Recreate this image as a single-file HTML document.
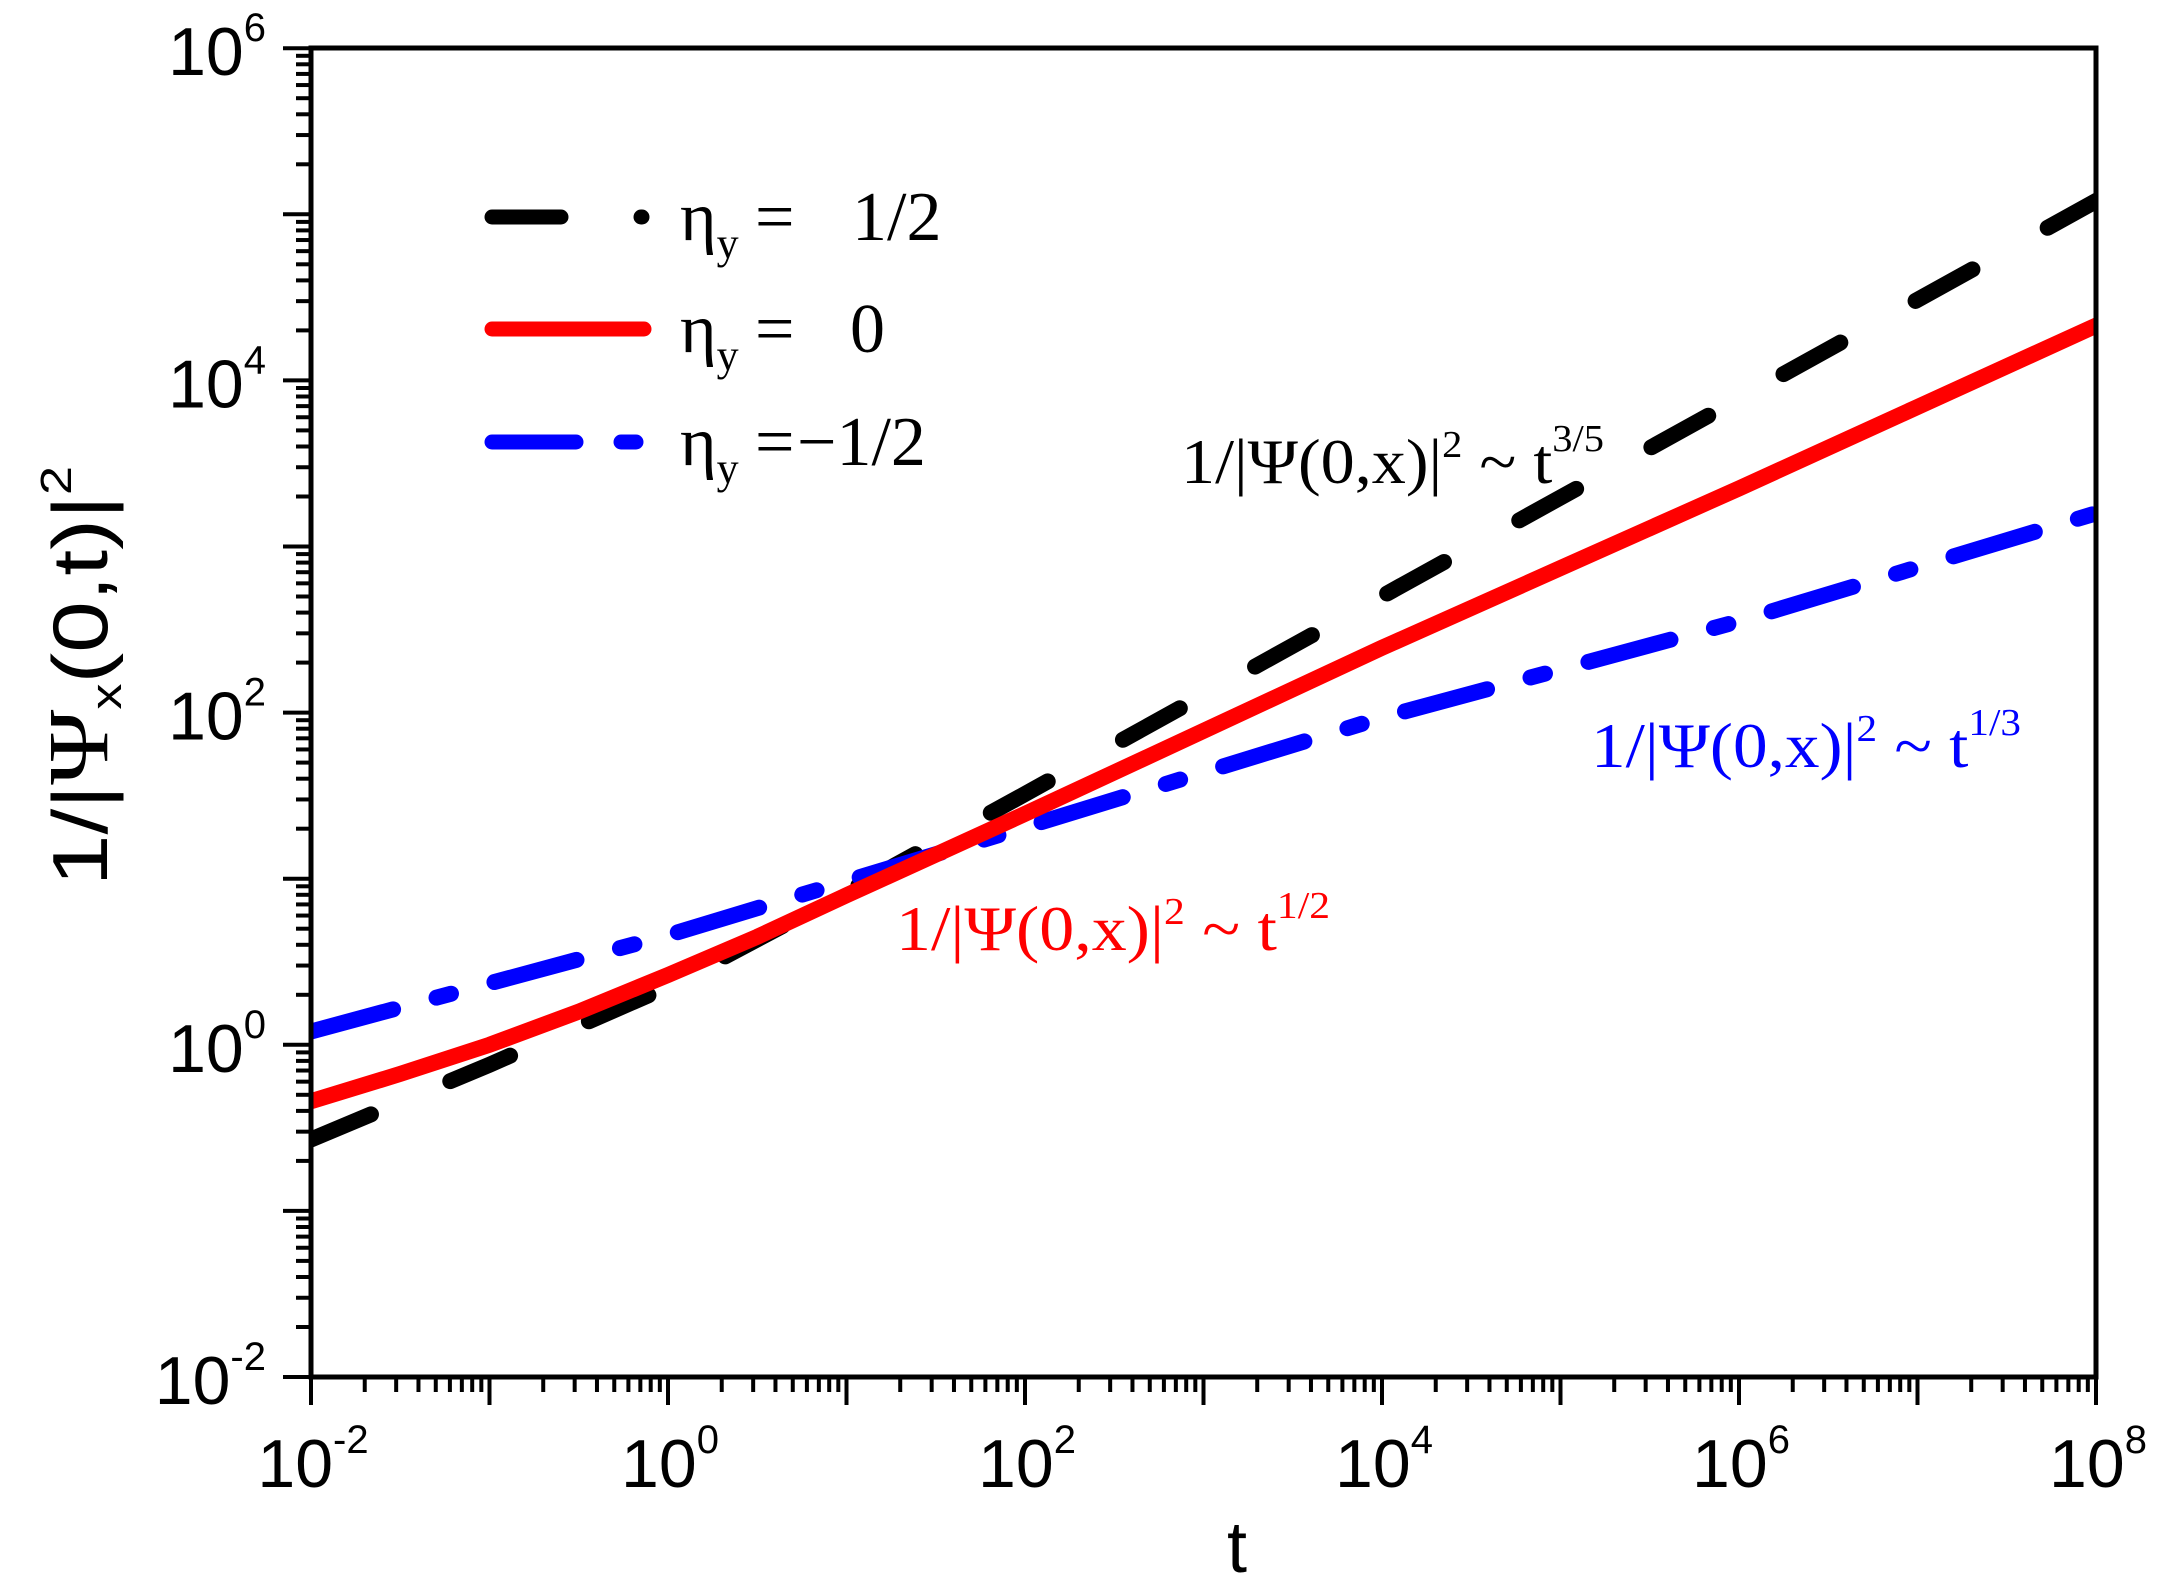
<!DOCTYPE html>
<html><head><meta charset="utf-8">
<style>
html,body{margin:0;padding:0;background:#fff;}
svg{display:block;}
.ax{font-family:"Liberation Sans",Arial,sans-serif;fill:#000;}
.sr{font-family:"Liberation Serif","Times New Roman",serif;}
</style></head>
<body>
<svg id="s" width="2162" height="1588" viewBox="0 0 2162 1588" xmlns="http://www.w3.org/2000/svg">
<defs><clipPath id="c"><rect x="311" y="48" width="1785" height="1329"/></clipPath></defs>
<g id="ticks" stroke="#000" stroke-width="4"></g>
<g id="labels" class="ax"></g>
<g clip-path="url(#c)" fill="none" stroke-linecap="round" stroke-linejoin="round">
<polyline id="pk" stroke="#000" stroke-width="16" stroke-dasharray="65 86"/>
<polyline id="pb" stroke="#0000ff" stroke-width="16" stroke-dasharray="85 45 15 45"/>
<polyline id="pr" stroke="#ff0000" stroke-width="16"/>
</g>
<rect x="311" y="48" width="1785" height="1329" fill="none" stroke="#000" stroke-width="5"/>

<!-- legend -->
<g stroke-linecap="round" stroke-width="15">
<line x1="492" y1="217" x2="561" y2="217" stroke="#000"/>
<line x1="641" y1="217" x2="642" y2="217" stroke="#000"/>
<line x1="492" y1="329" x2="644" y2="329" stroke="#ff0000"/>
<line x1="492" y1="442" x2="576" y2="442" stroke="#0000ff"/>
<line x1="621" y1="442" x2="636" y2="442" stroke="#0000ff"/>
</g>
<g class="sr" font-size="70" fill="#000">
<text x="680" y="240">η<tspan font-size="44" dy="18">y</tspan><tspan dy="-18" x="755">=</tspan><tspan x="852">1/2</tspan></text>
<text x="680" y="352">η<tspan font-size="44" dy="18">y</tspan><tspan dy="-18" x="755">=</tspan><tspan x="850">0</tspan></text>
<text x="680" y="465">η<tspan font-size="44" dy="18">y</tspan><tspan dy="-18" x="755">=</tspan><tspan x="797">−1/2</tspan></text>
</g>

<!-- annotations -->
<g class="sr" font-size="64">
<text x="1181" y="483" fill="#000" textLength="423" lengthAdjust="spacingAndGlyphs">1/|Ψ(0,x)|<tspan font-size="38" dy="-26">2</tspan><tspan dy="26"> ~ t</tspan><tspan font-size="38" dy="-32">3/5</tspan></text>
<text x="1591" y="767" fill="#0000ff" textLength="430" lengthAdjust="spacingAndGlyphs">1/|Ψ(0,x)|<tspan font-size="38" dy="-26">2</tspan><tspan dy="26">  ~ t</tspan><tspan font-size="38" dy="-32">1/3</tspan></text>
<text x="896" y="950" fill="#ff0000" textLength="434" lengthAdjust="spacingAndGlyphs">1/|Ψ(0,x)|<tspan font-size="38" dy="-26">2</tspan><tspan dy="26">  ~ t</tspan><tspan font-size="38" dy="-32">1/2</tspan></text>
</g>

<!-- axis titles -->
<text class="ax" x="1237" y="1572" font-size="72" text-anchor="middle">t</text>
<text class="ax" transform="translate(107,886) rotate(-90)" font-size="78" textLength="420" lengthAdjust="spacingAndGlyphs">1/|<tspan class="sr" font-size="86">Ψ</tspan><tspan font-size="44" dy="14">x</tspan><tspan dy="-14">(0,t)|</tspan><tspan font-size="44" dy="-36">2</tspan></text>
</svg>
<script>
(function(){
var NS="http://www.w3.org/2000/svg";
function X(l){return 311+(l+2)*178.5;}
function Y(l){return 1377-(l+2)*166.1;}
var tk=document.getElementById('ticks'),lb=document.getElementById('labels');
function line(x1,y1,x2,y2){var e=document.createElementNS(NS,'line');e.setAttribute('x1',x1);e.setAttribute('y1',y1);e.setAttribute('x2',x2);e.setAttribute('y2',y2);tk.appendChild(e);}
for(var d=-2;d<=8;d++){
  var x=X(d);line(x,1377,x,1405);
  if(d<8)for(var k=2;k<=9;k++){var xx=X(d+Math.log10(k));line(xx,1377,xx,1392);}
}
for(var d=-2;d<=6;d++){
  var y=Y(d);line(283,y,311,y);
  if(d<6)for(var k=2;k<=9;k++){var yy=Y(d+Math.log10(k));line(296,yy,311,yy);}
}
function lab(x,y,e,anchor){
  var t=document.createElementNS(NS,'text');t.setAttribute('x',x);t.setAttribute('y',y);t.setAttribute('font-size','68');t.setAttribute('text-anchor',anchor);
  t.innerHTML='10<tspan font-size="40" dy="-34">'+e+'</tspan>';lb.appendChild(t);
}
for(var d=-2;d<=8;d+=2){lab(X(d)+2,1487,d<0?'-'+(-d):''+d,'middle');}
for(var d=-2;d<=6;d+=2){lab(266,Y(d)+27,d<0?'-'+(-d):''+d,'end');}
function pts(a){return a.map(function(p){return X(p[0]).toFixed(1)+','+Y(p[1]).toFixed(1);}).join(' ');}
document.getElementById('pr').setAttribute('points',pts([[-2.1,-0.375],[-2,-0.34],[-1.5,-0.175],[-1,0.0],[-0.5,0.2],[0,0.42],[0.5,0.65],[1,0.9],[1.5,1.145],[2,1.39],[3,1.89],[4,2.39],[5,2.87],[6,3.35],[7,3.84],[8,4.33],[8.1,4.38]]));
document.getElementById('pk').setAttribute('points',pts([[-2,-0.57],[-1,-0.12],[0,0.35],[1,0.92],[2,1.51],[4,2.7],[6,3.89],[8,5.08],[8.1,5.14]]));
document.getElementById('pb').setAttribute('points',pts([[-2,0.08],[0,0.66],[2,1.31],[4,1.97],[6,2.55],[8,3.2],[8.1,3.23]]));
})();
</script>
</body></html>
